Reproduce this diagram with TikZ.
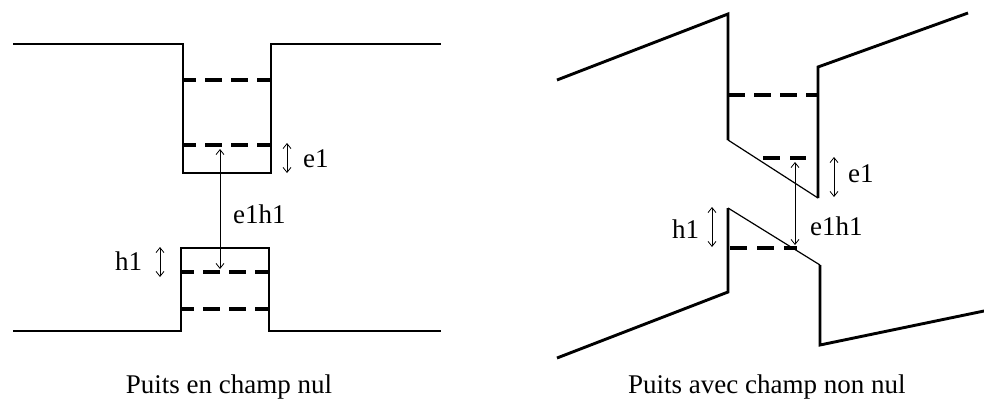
\documentclass[tikz,border=0pt]{standalone}
\usepackage{fontspec}
\setmainfont{Liberation Serif}
\usetikzlibrary{arrows.meta}
\tikzset{
  every picture/.style={x=1pt, y=-1pt, line join=miter},
  band/.style={line width=2.9pt},
  slope/.style={line width=1.2pt},
  level/.style={line width=3.8pt, dash pattern=on 17pt off #1pt},
  level/.default=9,
  gap/.style={{Straight Barb[length=5pt, width=8pt]}-{Straight Barb[length=5pt, width=8pt]}, line width=0.8pt},
  lbl/.style={font=\fontsize{27}{30}\selectfont, inner sep=0pt, anchor=base west},
}

\begin{document}
\begin{tikzpicture}
  \useasboundingbox (0,0) rectangle (984,407);
  % puits en champ nul
  \draw[band] (13,44) -- (183,44) -- (183,173) -- (271,173) -- (271,44) -- (441,44);
  \draw[band] (13,331) -- (181,331) -- (181,248) -- (269,248) -- (269,331) -- (441,331);
  \draw[level, dash phase=4pt] (183,80) -- (271,80);
  \draw[level, dash phase=4pt] (183,145) -- (271,145);
  \draw[level, dash phase=4pt] (181,272) -- (269,272);
  \draw[level, dash phase=4pt] (181,309) -- (269,309);
  \coordinate (ae1) at (220,149);
  \coordinate (ah1) at (220,269);
  \coordinate (e1a) at (287,143);
  \coordinate (e1b) at (287,173);
  \coordinate (h1a) at (160,247);
  \coordinate (h1b) at (160,277);
  \draw[gap] (ae1) -- (ah1);
  \draw[gap] (e1a) -- (e1b);
  \draw[gap] (h1a) -- (h1b);
  \node[lbl] (le1h1) at (233,223) {e1h1};
  \node[lbl] (le1) at (303,167) {e1};
  \node[lbl] (lh1) at (115,270) {h1};
  \node[lbl, anchor=base] (cap1) at (229,393) {Puits en champ nul};
  % puits avec champ non nul
  \draw[band] (557,80) -- (728,14) -- (728,140);
  \draw[slope] (728,140) -- (818,198);
  \draw[band] (818,198) -- (818,67) -- (968,13);
  \draw[band] (557,358) -- (728,292) -- (728,208);
  \draw[slope] (728,208) -- (820,265);
  \draw[band] (820,265) -- (820,345) -- (984,311);
  \draw[level] (728,95) -- (818,95);
  \draw[level=10] (763,158) -- (806,158);
  \draw[level=10] (730,248) -- (797,248);
  \coordinate (be1) at (795,162);
  \coordinate (bh1) at (795,245);
  \coordinate (e1c) at (834,157);
  \coordinate (e1d) at (834,197);
  \coordinate (h1c) at (712,207);
  \coordinate (h1d) at (712,247);
  \draw[gap] (be1) -- (bh1);
  \draw[gap] (e1c) -- (e1d);
  \draw[gap] (h1c) -- (h1d);
  \node[lbl] (re1h1) at (810,235) {e1h1};
  \node[lbl] (re1) at (848,182) {e1};
  \node[lbl] (rh1) at (672,238) {h1};
  \node[lbl] (cap2) at (628,393) {Puits avec champ non nul};
\end{tikzpicture}
\end{document}
